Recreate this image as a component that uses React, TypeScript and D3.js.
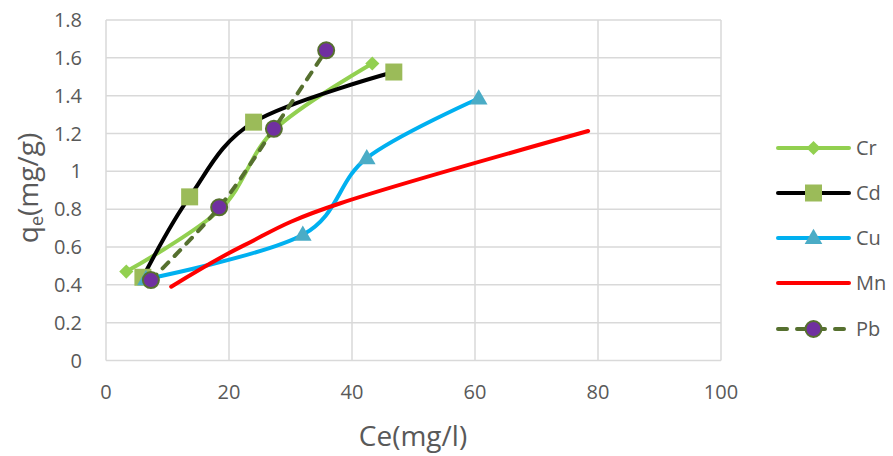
import React from "react";
import * as d3 from "d3";

const seriesNames = ["Cr", "Cd", "Cu", "Mn", "Pb"];

const crX = [3.3, 18.6, 27.4, 43.3];
const crY = [0.47, 0.8, 1.22, 1.57];
const cdX = [6.0, 13.6, 24.0, 46.8];
const cdY = [0.44, 0.865, 1.26, 1.525];
const cuX = [6.5, 32.0, 42.4, 60.6];
const cuY = [0.43, 0.665, 1.07, 1.385];
const mnX = [10.6, 22.5, 38.0, 78.4];
const mnY = [0.39, 0.61, 0.83, 1.213];
const pbX = [7.3, 18.4, 27.3, 35.8];
const pbY = [0.425, 0.81, 1.225, 1.64];

const xTicks = [0, 20, 40, 60, 80, 100];
const yTicks = [0, 0.2, 0.4, 0.6, 0.8, 1, 1.2, 1.4, 1.6, 1.8];

const W = 893;
const H = 456;
const FONT = "'Open Sans', 'DejaVu Sans', sans-serif";
const TXT = "#595959";
const GRID = "#D9D9D9";
const OLIVE = "#56702F";

type Series = {
  name: string;
  xs: number[];
  ys: number[];
  line: string;
  dash?: string;
  marker: "diamond" | "square" | "triangle" | "none" | "circle";
  mFill: string;
  mStroke?: string;
};

const series: Series[] = [
  { name: seriesNames[0], xs: crX, ys: crY, line: "#92D050", marker: "diamond", mFill: "#92D050" },
  { name: seriesNames[1], xs: cdX, ys: cdY, line: "#000000", marker: "square", mFill: "#9BBB59" },
  { name: seriesNames[2], xs: cuX, ys: cuY, line: "#00B0F0", marker: "triangle", mFill: "#4BACC6" },
  { name: seriesNames[3], xs: mnX, ys: mnY, line: "#FF0000", marker: "none", mFill: "none" },
  { name: seriesNames[4], xs: pbX, ys: pbY, line: OLIVE, dash: "8 9", marker: "circle", mFill: "#7030A0", mStroke: OLIVE },
];

const x = d3.scaleLinear().domain([0, 100]).range([106, 721]);
const y = d3.scaleLinear().domain([0, 1.8]).range([360.5, 20]);

const lineGen = d3
  .line<[number, number]>()
  .x((d) => x(d[0]))
  .y((d) => y(d[1]))
  .curve(d3.curveCardinal.tension(0));

function Marker({ s, cx, cy }: { s: Series; cx: number; cy: number }) {
  if (s.marker === "none") return null;
  if (s.marker === "circle") {
    return <circle cx={cx} cy={cy} r={8} fill={s.mFill} stroke={s.mStroke} strokeWidth={2} />;
  }
  if (s.marker === "square") {
    const p = d3.symbol(d3.symbolSquare, 289)() as string;
    return <path d={p} transform={`translate(${cx},${cy})`} fill={s.mFill} />;
  }
  if (s.marker === "diamond") {
    const p = d3.symbol(d3.symbolSquare, 100)() as string;
    return <path d={p} transform={`translate(${cx},${cy}) rotate(45)`} fill={s.mFill} />;
  }
  const p = d3.symbol(d3.symbolTriangle, 135)() as string;
  return <path d={p} transform={`translate(${cx},${cy + 1})`} fill={s.mFill} />;
}

export default function App() {
  const legendX0 = 778;
  const legendX1 = 849;
  const legendY = [148, 193, 238, 283, 329];
  return (
    <svg
      width={W}
      height={H}
      style={{ position: "fixed", left: 0, top: 0, background: "#fff" }}
      fontFamily={FONT}
    >
      <rect x={0} y={0} width={W} height={H} fill="#fff" />
      {/* grid */}
      {yTicks.map((t) => (
        <line key={"gy" + t} x1={x(0)} x2={x(100)} y1={y(t)} y2={y(t)} stroke={GRID} strokeWidth={1.5} />
      ))}
      {xTicks.map((t) => (
        <line key={"gx" + t} x1={x(t)} x2={x(t)} y1={y(0)} y2={y(1.8)} stroke={GRID} strokeWidth={1.5} />
      ))}
      {/* tick labels */}
      {yTicks.map((t) => (
        <text key={"ty" + t} x={82} y={y(t) + 7} textAnchor="end" fontSize={20} fill={TXT}>
          {d3.format("~g")(t)}
        </text>
      ))}
      {xTicks.map((t) => (
        <text key={"tx" + t} x={x(t)} y={399} textAnchor="middle" fontSize={20} fill={TXT}>
          {t}
        </text>
      ))}
      {/* axis titles */}
      <text x={413} y={446} textAnchor="middle" fontSize={28} fill={TXT}>
        Ce(mg/l)
      </text>
      <text transform="translate(38,188) rotate(-90)" textAnchor="middle" fontSize={28} fill={TXT}>
        q<tspan fontSize={18} dy={5}>e</tspan>
        <tspan dy={-5}>(mg/g)</tspan>
      </text>
      {/* series */}
      {series.map((s) => {
        const pts = s.xs.map((v, i) => [v, s.ys[i]] as [number, number]);
        return (
          <g key={s.name}>
            <path
              d={lineGen(pts) as string}
              fill="none"
              stroke={s.line}
              strokeWidth={4}
              strokeLinecap="round"
              strokeLinejoin="round"
              strokeDasharray={s.dash}
            />
            {pts.map((p, i) => (
              <Marker key={i} s={s} cx={x(p[0])} cy={y(p[1])} />
            ))}
          </g>
        );
      })}
      {/* legend */}
      {series.map((s, i) => (
        <g key={"lg" + s.name}>
          <line
            x1={legendX0}
            x2={legendX1}
            y1={legendY[i]}
            y2={legendY[i]}
            stroke={s.line}
            strokeWidth={4}
            strokeLinecap="round"
            strokeDasharray={s.dash ? "9 10" : undefined}
          />
          <Marker s={s} cx={(legendX0 + legendX1) / 2} cy={legendY[i]} />
          <text x={856} y={legendY[i] + 7} fontSize={20} fill={TXT}>
            {s.name}
          </text>
        </g>
      ))}
    </svg>
  );
}
